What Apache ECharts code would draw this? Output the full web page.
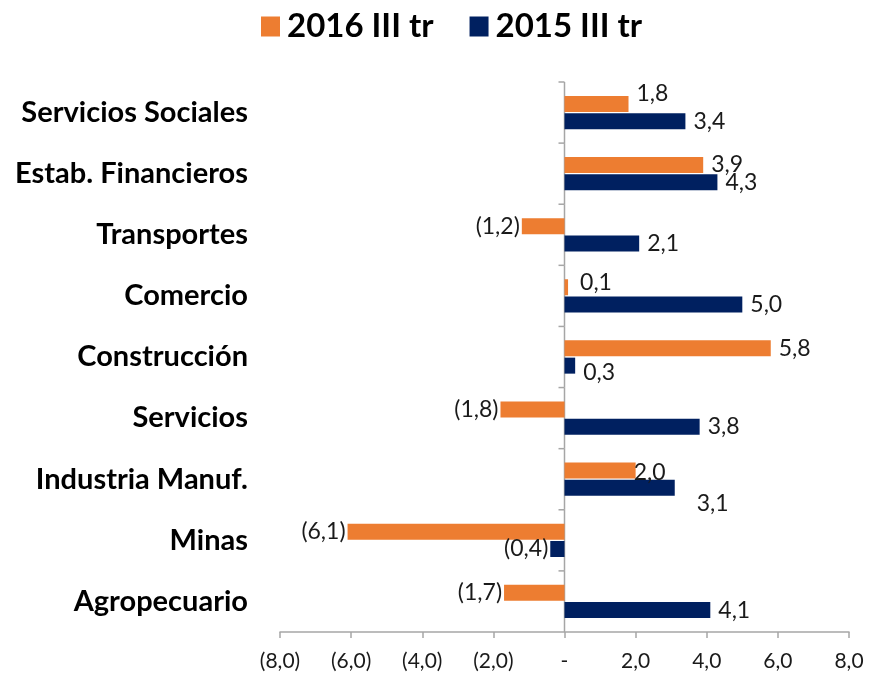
<!DOCTYPE html>
<html><head><meta charset="utf-8">
<script src="https://cdn.jsdelivr.net/npm/echarts@6/dist/echarts.min.js"></script>
<style>html,body{margin:0;padding:0;background:#fff}#c{width:875px;height:678px}</style>
</head><body><div id="c"></div>
<script>
const categories = ["Servicios Sociales","Estab. Financieros","Transportes","Comercio","Construcción","Servicios","Industria Manuf.","Minas","Agropecuario"];
const series2016 = [1.8, 3.9, -1.2, 0.1, 5.8, -1.8, 2.0, -6.1, -1.7];
const series2015 = [3.4, 4.3, 2.1, 5.0, 0.3, 3.8, 3.1, -0.4, 4.1];
const seriesNames = ["2016 III tr", "2015 III tr"];
const xTicks = [-8, -6, -4, -2, 0, 2, 4, 6, 8];

// small label nudges (styling only), keyed by series then category index
const labelNudge = [
  { 0: [0, -10], 3: [4, -5], 6: [-10, 2] },
  { 4: [0, 7], 6: [14, 16] }
];

function fmt(v){
  if (v === 0) return "-";
  const s = Math.abs(v).toFixed(1).replace('.', ',');
  return v < 0 ? "(" + s + ")" : s;
}
const FONT = "Lato";
const AXIS_COLOR = '#a6a6a6';
function mkData(arr, si){
  return arr.map((v, i) => ({
    value: v,
    label: {
      position: v < 0 ? 'left' : 'right',
      distance: v < 0 ? 2 : 8,
      offset: labelNudge[si][i] || [0, 0]
    }
  }));
}
const chart = echarts.init(document.getElementById('c'));
const labelStyle = { show: true, formatter: p => fmt(p.value), fontFamily: FONT, fontSize: 23, color: '#1a1a1a' };
chart.setOption({
  animation: false,
  legend: {
    top: 5, left: 256,
    itemWidth: 19, itemHeight: 20, itemGap: 36,
    icon: 'rect',
    textStyle: { fontFamily: FONT, fontWeight: 'bold', fontSize: 33, color: '#000', padding: [0,0,0,2] },
    data: seriesNames
  },
  grid: { left: 280, right: 26, top: 82, bottom: 46, containLabel: false },
  xAxis: {
    type: 'value', min: xTicks[0], max: xTicks[xTicks.length - 1], interval: 2,
    axisLine: { show: true, onZero: false, lineStyle: { color: AXIS_COLOR, width: 1.5 } },
    axisTick: { show: true, length: 6, lineStyle: { color: AXIS_COLOR, width: 1.5 } },
    splitLine: { show: false },
    axisLabel: { formatter: v => fmt(v), fontFamily: FONT, fontSize: 21, color: '#1a1a1a', margin: 19 }
  },
  yAxis: {
    type: 'category', data: categories, inverse: true,
    axisLine: { show: false, onZero: false }, axisTick: { show: false },
    axisLabel: { fontFamily: FONT, fontWeight: 'bold', fontSize: 29, color: '#000', margin: 32 }
  },
  series: [
    { name: seriesNames[0], type: 'bar', data: mkData(series2016, 0), barWidth: 16, barGap: '8%',
      itemStyle: { color: '#ED7D31' }, label: labelStyle },
    { name: seriesNames[1], type: 'bar', data: mkData(series2015, 1), barWidth: 16, barGap: '8%',
      itemStyle: { color: '#002060' }, label: labelStyle },
    { // zero axis line with ticks between categories
      type: 'custom', silent: true, z: 1,
      data: categories.map((c, i) => [0, i]),
      encode: { x: 0, y: 1 },
      renderItem: function (params, api) {
        const i = api.value(1);
        const c = api.coord([0, i]);
        const band = api.size([0, 1])[1];
        const top = c[1] - band / 2, bot = c[1] + band / 2;
        const style = { stroke: AXIS_COLOR, lineWidth: 1.5 };
        const children = [
          { type: 'line', shape: { x1: c[0], y1: top, x2: c[0], y2: bot }, style },
          { type: 'line', shape: { x1: c[0] - 6, y1: top, x2: c[0], y2: top }, style }
        ];
        return { type: 'group', children };
      }
    }
  ]
});
</script></body></html>
